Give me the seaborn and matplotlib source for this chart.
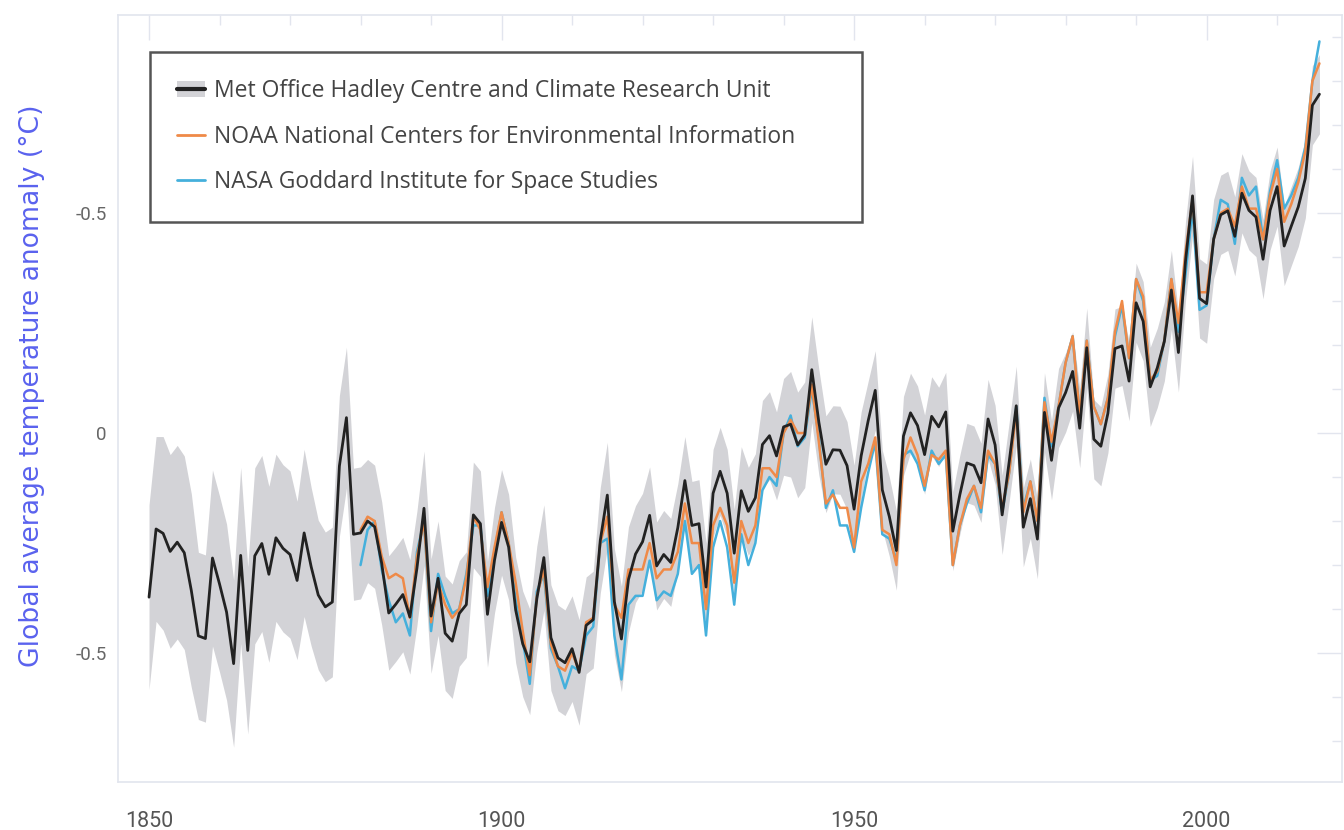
import matplotlib
matplotlib.use("Agg")
import matplotlib.pyplot as plt
from matplotlib.lines import Line2D
from matplotlib.patches import Patch
from matplotlib.ticker import MultipleLocator, FixedLocator
import pandas as pd
import seaborn as sns

# HadCRUT4 annual anomaly (deg C, vs 1961-1990)
had_years = list(range(1850, 2017))
hadcrut = [
    -0.373, -0.218, -0.228, -0.269, -0.248, -0.272, -0.358, -0.461, -0.467, -0.284,
    -0.343, -0.407, -0.524, -0.278, -0.494, -0.279, -0.251, -0.321, -0.238, -0.262,
    -0.276, -0.335, -0.227, -0.304, -0.368, -0.395, -0.384, -0.075, 0.035, -0.230,
    -0.227, -0.200, -0.213, -0.296, -0.409, -0.389, -0.367, -0.418, -0.307, -0.171,
    -0.416, -0.330, -0.455, -0.473, -0.410, -0.390, -0.186, -0.206, -0.412, -0.289,
    -0.203, -0.259, -0.402, -0.479, -0.520, -0.377, -0.283, -0.465, -0.511, -0.522,
    -0.490, -0.544, -0.437, -0.424, -0.244, -0.141, -0.383, -0.468, -0.333, -0.275,
    -0.247, -0.187, -0.302, -0.276, -0.294, -0.215, -0.108, -0.210, -0.206, -0.350,
    -0.137, -0.087, -0.137, -0.273, -0.131, -0.178, -0.147, -0.026, -0.006, -0.052,
    0.014, 0.020, -0.027, -0.004, 0.144, 0.025, -0.071, -0.038, -0.039, -0.074,
    -0.173, -0.052, 0.028, 0.097, -0.129, -0.190, -0.267, -0.007, 0.046, 0.017,
    -0.049, 0.038, 0.014, 0.048, -0.223, -0.140, -0.068, -0.074, -0.113, 0.032,
    -0.027, -0.186, -0.065, 0.062, -0.214, -0.149, -0.241, 0.047, -0.062, 0.057,
    0.092, 0.140, 0.011, 0.194, -0.014, -0.030, 0.045, 0.192, 0.198, 0.118,
    0.296, 0.254, 0.105, 0.148, 0.208, 0.325, 0.183, 0.390, 0.539, 0.306,
    0.294, 0.441, 0.496, 0.505, 0.447, 0.545, 0.506, 0.491, 0.395, 0.506,
    0.560, 0.425, 0.470, 0.514, 0.579, 0.745, 0.770,
]
# half width of the grey uncertainty band
hadcrut_err = [
    0.21, 0.21, 0.22, 0.22, 0.22, 0.22, 0.22, 0.19, 0.19, 0.20,
    0.20, 0.20, 0.19, 0.20, 0.19, 0.20, 0.20, 0.20, 0.19, 0.19,
    0.19, 0.18, 0.19, 0.18, 0.17, 0.17, 0.17, 0.16, 0.16, 0.15,
    0.15, 0.14, 0.14, 0.14, 0.13, 0.13, 0.13, 0.13, 0.13, 0.13,
    0.13, 0.13, 0.13, 0.13, 0.12, 0.12, 0.12, 0.12, 0.12, 0.12,
    0.12, 0.12, 0.12, 0.12, 0.12, 0.12, 0.12, 0.12, 0.12, 0.12,
    0.12, 0.12, 0.11, 0.11, 0.12, 0.12, 0.12, 0.12, 0.12, 0.11,
    0.11, 0.11, 0.10, 0.10, 0.10, 0.10, 0.10, 0.10, 0.10, 0.10,
    0.10, 0.10, 0.10, 0.10, 0.10, 0.10, 0.10, 0.10, 0.10, 0.10,
    0.11, 0.12, 0.12, 0.12, 0.12, 0.12, 0.11, 0.10, 0.10, 0.10,
    0.10, 0.10, 0.09, 0.09, 0.09, 0.09, 0.09, 0.09, 0.09, 0.09,
    0.09, 0.09, 0.09, 0.09, 0.09, 0.09, 0.09, 0.09, 0.09, 0.09,
    0.09, 0.09, 0.09, 0.09, 0.09, 0.09, 0.09, 0.09, 0.09, 0.09,
    0.09, 0.09, 0.09, 0.09, 0.09, 0.09, 0.09, 0.09, 0.09, 0.09,
    0.09, 0.09, 0.09, 0.09, 0.09, 0.09, 0.09, 0.09, 0.09, 0.09,
    0.09, 0.09, 0.09, 0.09, 0.09, 0.09, 0.09, 0.09, 0.09, 0.09,
    0.09, 0.09, 0.09, 0.09, 0.09, 0.09, 0.09,
]

other_years = list(range(1880, 2017))
noaa = [
    -0.22, -0.19, -0.20, -0.28, -0.33, -0.32, -0.33, -0.42, -0.28, -0.20,
    -0.43, -0.34, -0.39, -0.42, -0.40, -0.33, -0.19, -0.22, -0.35, -0.26,
    -0.18, -0.25, -0.34, -0.45, -0.55, -0.37, -0.31, -0.48, -0.53, -0.54,
    -0.50, -0.54, -0.43, -0.42, -0.25, -0.19, -0.39, -0.42, -0.31, -0.31,
    -0.31, -0.25, -0.33, -0.31, -0.31, -0.27, -0.16, -0.25, -0.25, -0.40,
    -0.21, -0.17, -0.21, -0.34, -0.20, -0.25, -0.21, -0.08, -0.08, -0.10,
    0.00, 0.03, 0.00, 0.00, 0.11, -0.02, -0.16, -0.14, -0.17, -0.17,
    -0.26, -0.11, -0.07, -0.01, -0.22, -0.23, -0.30, -0.06, -0.01, -0.05,
    -0.12, -0.05, -0.06, -0.04, -0.30, -0.21, -0.15, -0.12, -0.17, -0.04,
    -0.07, -0.17, -0.09, 0.05, -0.18, -0.11, -0.20, 0.07, -0.02, 0.06,
    0.16, 0.22, 0.04, 0.21, 0.06, 0.02, 0.08, 0.23, 0.30, 0.17,
    0.35, 0.31, 0.12, 0.14, 0.21, 0.35, 0.25, 0.41, 0.53, 0.32,
    0.32, 0.44, 0.50, 0.51, 0.47, 0.56, 0.51, 0.51, 0.44, 0.54,
    0.60, 0.48, 0.52, 0.57, 0.64, 0.80, 0.84,
]
nasa = [
    -0.30, -0.22, -0.20, -0.31, -0.38, -0.43, -0.41, -0.46, -0.27, -0.20,
    -0.45, -0.32, -0.37, -0.41, -0.40, -0.32, -0.21, -0.21, -0.37, -0.27,
    -0.18, -0.25, -0.38, -0.47, -0.57, -0.36, -0.32, -0.49, -0.53, -0.58,
    -0.53, -0.54, -0.46, -0.44, -0.25, -0.24, -0.46, -0.56, -0.39, -0.37,
    -0.37, -0.29, -0.38, -0.36, -0.37, -0.32, -0.20, -0.32, -0.30, -0.46,
    -0.26, -0.20, -0.26, -0.39, -0.23, -0.30, -0.25, -0.13, -0.10, -0.12,
    0.00, 0.04, -0.03, -0.01, 0.10, -0.01, -0.17, -0.13, -0.21, -0.21,
    -0.27, -0.17, -0.09, -0.02, -0.23, -0.24, -0.29, -0.05, -0.04, -0.07,
    -0.13, -0.04, -0.07, -0.05, -0.30, -0.21, -0.16, -0.12, -0.18, -0.05,
    -0.07, -0.18, -0.09, 0.06, -0.17, -0.11, -0.20, 0.08, -0.03, 0.06,
    0.16, 0.22, 0.04, 0.21, 0.06, 0.02, 0.08, 0.22, 0.29, 0.17,
    0.35, 0.30, 0.12, 0.13, 0.21, 0.35, 0.23, 0.36, 0.51, 0.28,
    0.29, 0.44, 0.53, 0.52, 0.43, 0.58, 0.54, 0.56, 0.44, 0.55,
    0.62, 0.51, 0.54, 0.58, 0.65, 0.80, 0.89,
]

legend_labels = [
    "Met Office Hadley Centre and Climate Research Unit",
    "NOAA National Centers for Environmental Information",
    "NASA Goddard Institute for Space Studies",
]
x_ticks = [1850, 1900, 1950, 2000]
y_ticks = [0.5, 0, -0.5]
y_ticklabels = ["-0.5", "0", "-0.5"]  # as printed on the original
y_title = "Global average temperature anomaly (°C)"

had = pd.DataFrame({"year": had_years, "anomaly": hadcrut, "err": hadcrut_err})
had["lo"] = had["anomaly"] - had["err"]
had["hi"] = had["anomaly"] + had["err"]
others = pd.DataFrame({"year": other_years, "noaa": noaa, "nasa": nasa})

sns.set_style("white")
plt.rcParams["font.family"] = ["Roboto", "DejaVu Sans"]

band_c = "#d3d3d7"
black_c = "#222222"
orange_c = "#ef8a48"
blue_c = "#45b0dc"
axis_c = "#e2e5ee"

fig = plt.figure(figsize=(13.44, 8.30), dpi=100)
ax = fig.add_axes([118 / 1344, 48 / 830, 1224 / 1344, 767 / 830])

ax.fill_between(had["year"], had["lo"], had["hi"], color=band_c, lw=0, zorder=1)
sns.lineplot(data=others, x="year", y="nasa", color=blue_c, lw=1.8, ax=ax, zorder=2)
sns.lineplot(data=others, x="year", y="noaa", color=orange_c, lw=1.8, ax=ax, zorder=3)
sns.lineplot(data=had, x="year", y="anomaly", color=black_c, lw=2.0, ax=ax, zorder=4)

ax.set_xlim(1845.6, 2019.2)
ax.set_ylim(-0.793, 0.950)

ax.xaxis.set_major_locator(FixedLocator(x_ticks))
ax.xaxis.set_minor_locator(MultipleLocator(10))
ax.yaxis.set_major_locator(FixedLocator(y_ticks))
ax.yaxis.set_minor_locator(MultipleLocator(0.1))
ax.set_yticklabels(y_ticklabels)

ax.tick_params(which="both", direction="in", color=axis_c, width=1,
               top=True, right=True)
ax.tick_params(which="major", length=18)
ax.tick_params(which="minor", length=7)
ax.tick_params(axis="x", which="major", pad=21, labelsize=15.5, labelcolor="#555555")
ax.tick_params(axis="y", which="major", pad=8, labelsize=13.5, labelcolor="#666666")

for s in ax.spines.values():
    s.set_color(axis_c)
    s.set_linewidth(1.2)

ax.set_xlabel("")
ax.set_ylabel(y_title, color="#5a62ee", fontsize=19.2, family=["DejaVu Sans"])
ax.yaxis.set_label_coords(-0.060, 0.516)

handles = [
    (Patch(facecolor=band_c, edgecolor="none"), Line2D([], [], color=black_c, lw=3)),
    Line2D([], [], color=orange_c, lw=2),
    Line2D([], [], color=blue_c, lw=2),
]
leg = ax.legend(handles, legend_labels, loc="upper left",
                bbox_to_anchor=(0.026, 0.0, 0.582, 0.952), mode="expand",
                borderaxespad=0, frameon=True, fancybox=False, framealpha=1,
                edgecolor="#555555", prop={"family": "Open Sans", "size": 16.5},
                labelcolor="#444444", borderpad=1.2, handlelength=1.2,
                handletextpad=0.4, labelspacing=0.94)
leg.get_frame().set_linewidth(1.8)
leg.set_zorder(10)

fig.savefig("out.png", dpi=100, facecolor="white")
